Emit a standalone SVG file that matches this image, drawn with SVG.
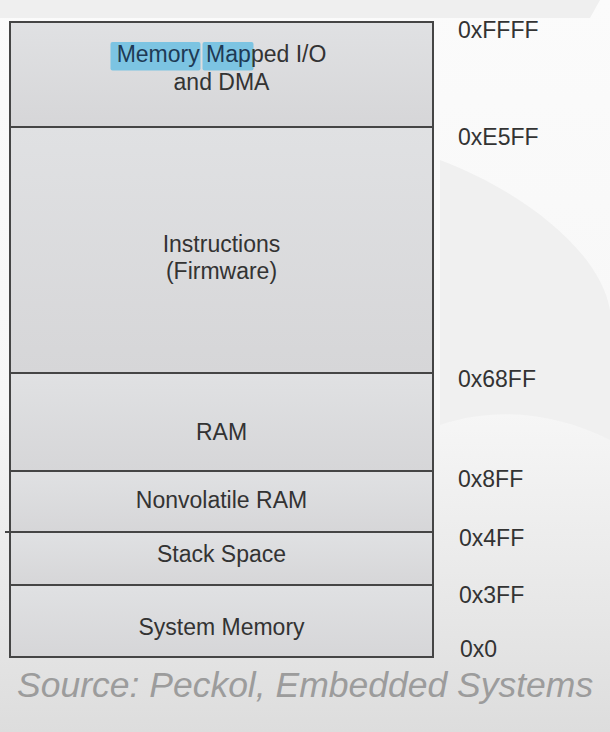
<svg xmlns="http://www.w3.org/2000/svg" width="610" height="732" viewBox="0 0 610 732">
<defs>
<linearGradient id="bg" x1="0" y1="0" x2="0" y2="1">
<stop offset="0" stop-color="#fbfbfb"/>
<stop offset="0.55" stop-color="#f7f7f7"/>
<stop offset="0.85" stop-color="#e6e6e6"/>
<stop offset="1" stop-color="#dddddd"/>
</linearGradient>
<linearGradient id="boxfill" x1="0" y1="0" x2="0" y2="1">
<stop offset="0" stop-color="#e0e1e3"/>
<stop offset="1" stop-color="#d6d6d8"/>
</linearGradient>
<style>
.sec{fill:url(#boxfill);stroke:#454545;stroke-width:2}
.lbl{font-family:"Liberation Sans",Arial,sans-serif;font-size:23px;fill:#333;text-anchor:middle}
.addr{font-family:"Liberation Sans",Arial,sans-serif;font-size:23px;fill:#333}
.hl{fill:#7cc4e2}
.src{font-family:"Liberation Sans",Arial,sans-serif;font-size:35.5px;font-style:italic;fill:#9c9c9c}
</style>
</defs>
<rect x="0" y="0" width="610" height="732" fill="url(#bg)"/>
<path d="M0 0 H600 L590 18 H0 Z" fill="#efefef"/>
<path d="M440 160 C520 190 600 250 610 310 L610 440 C560 415 500 405 440 425 Z" fill="#f0f0f0"/>

<g id="mmio">
<rect class="sec" x="10" y="22" width="423" height="105"/>
<rect class="hl" x="110.5" y="42" width="90" height="28.5" rx="2"/>
<rect class="hl" x="202.5" y="42" width="51" height="28.5" rx="2"/>
<text class="lbl" x="221.5" y="62"><tspan fill="#1e3a55">Memory Map</tspan>ped I/O</text>
<text class="lbl" x="221.5" y="89.5">and DMA</text>
</g>
<g id="instructions">
<rect class="sec" x="10" y="127" width="423" height="246"/>
<text class="lbl" x="221.5" y="252">Instructions</text>
<text class="lbl" x="221.5" y="279">(Firmware)</text>
</g>
<g id="ram">
<rect class="sec" x="10" y="373" width="423" height="98"/>
<text class="lbl" x="221.5" y="440">RAM</text>
</g>
<g id="nvram">
<rect class="sec" x="10" y="471" width="423" height="61"/>
<text class="lbl" x="221.5" y="508">Nonvolatile RAM</text>
</g>
<g id="stack">
<rect class="sec" x="10" y="532" width="423" height="53"/>
<text class="lbl" x="221.5" y="562">Stack Space</text>
</g>
<g id="sysmem">
<rect class="sec" x="10" y="585" width="423" height="72"/>
<text class="lbl" x="221.5" y="635">System Memory</text>
</g>
<g id="connectors">
<line x1="5" y1="532" x2="12" y2="532" stroke="#454545" stroke-width="2"/>
</g>
<g id="addresses">
<text class="addr" x="458" y="38">0xFFFF</text>
<text class="addr" x="458" y="145">0xE5FF</text>
<text class="addr" x="458" y="387">0x68FF</text>
<text class="addr" x="458" y="487">0x8FF</text>
<text class="addr" x="459" y="546">0x4FF</text>
<text class="addr" x="459" y="603">0x3FF</text>
<text class="addr" x="460" y="657">0x0</text>
</g>
<text class="src" x="17" y="697">Source: Peckol, Embedded Systems</text>
</svg>
